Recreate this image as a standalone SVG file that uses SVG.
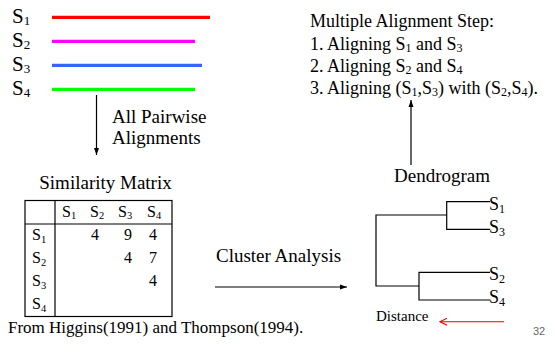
<svg xmlns="http://www.w3.org/2000/svg" width="554" height="345" viewBox="0 0 554 345">
<style>
text{font-family:"Liberation Serif","Times New Roman",serif;fill:#000}
.big{font-size:21px}
.m{font-size:19px}
.t{font-size:18px}
.mx{font-size:16px}
.sub{font-size:12px}
.sm{font-size:10.5px}
.bs{font-size:13px}
.ln{stroke:#000;stroke-width:1.2;fill:none}
.seq{stroke-width:3.2;fill:none}
</style>
<defs>
<marker id="ah" markerWidth="8" markerHeight="8" refX="7" refY="4" orient="auto" markerUnits="userSpaceOnUse">
<path d="M0,1.5 L7,4 L0,6.5 Z" fill="#000"/>
</marker>
<marker id="ro" markerWidth="10" markerHeight="10" refX="7" refY="4" orient="auto" markerUnits="userSpaceOnUse">
<path d="M0,0.5 L7,4 L0,7.5" fill="none" stroke="#e00" stroke-width="1.1"/>
</marker>
</defs>
<g id="sequences">
<text class="big" x="12" y="23">S<tspan class="bs" dy="2">1</tspan></text>
<text class="big" x="12" y="47">S<tspan class="bs" dy="2">2</tspan></text>
<text class="big" x="12" y="71">S<tspan class="bs" dy="2">3</tspan></text>
<text class="big" x="12" y="95">S<tspan class="bs" dy="2">4</tspan></text>
<line class="seq" x1="52" y1="17.3" x2="210" y2="17.3" stroke="#ff0000"/>
<line class="seq" x1="52" y1="41.3" x2="195" y2="41.3" stroke="#ff00ff"/>
<line class="seq" x1="52" y1="65.3" x2="202" y2="65.3" stroke="#3366ff"/>
<line class="seq" x1="52" y1="89.3" x2="195" y2="89.3" stroke="#00ff00"/>
</g>
<g id="steps">
<text class="t" x="310" y="27">Multiple Alignment Step:</text>
<text class="t" x="310" y="50">1. Aligning S<tspan class="sub" dy="2">1</tspan><tspan dy="-2"> and S</tspan><tspan class="sub" dy="2">3</tspan></text>
<text class="t" x="310" y="72">2. Aligning S<tspan class="sub" dy="2">2</tspan><tspan dy="-2"> and S</tspan><tspan class="sub" dy="2">4</tspan></text>
<text class="t" x="310" y="94">3. Aligning (S<tspan class="sub" dy="2">1</tspan><tspan dy="-2">,S</tspan><tspan class="sub" dy="2">3</tspan><tspan dy="-2">) with (S</tspan><tspan class="sub" dy="2">2</tspan><tspan dy="-2">,S</tspan><tspan class="sub" dy="2">4</tspan><tspan dy="-2">).</tspan></text>
</g>
<g id="matrix">
<text class="m" x="105.5" y="189" text-anchor="middle">Similarity Matrix</text>
<rect x="25" y="200.5" width="147" height="116" class="ln"/>
<line class="ln" x1="55" y1="200.5" x2="55" y2="316.5"/>
<line class="ln" x1="25" y1="224" x2="172" y2="224"/>
<g class="mx">
<text x="62" y="217">S<tspan class="sm" dy="2">1</tspan></text>
<text x="90" y="217">S<tspan class="sm" dy="2">2</tspan></text>
<text x="118" y="217">S<tspan class="sm" dy="2">3</tspan></text>
<text x="147" y="217">S<tspan class="sm" dy="2">4</tspan></text>
<text x="32" y="240">S<tspan class="sm" dy="3">1</tspan></text>
<text x="32" y="263">S<tspan class="sm" dy="3">2</tspan></text>
<text x="32" y="286">S<tspan class="sm" dy="3">3</tspan></text>
<text x="32" y="309">S<tspan class="sm" dy="3">4</tspan></text>
<text x="95" y="240" text-anchor="middle">4</text>
<text x="128" y="240" text-anchor="middle">9</text>
<text x="153" y="240" text-anchor="middle">4</text>
<text x="128" y="263" text-anchor="middle">4</text>
<text x="153" y="263" text-anchor="middle">7</text>
<text x="153" y="286" text-anchor="middle">4</text>
</g>
<text x="8" y="333" font-size="17">From Higgins(1991) and Thompson(1994).</text>
</g>
<g id="dendrogram">
<text class="m" x="442" y="182" text-anchor="middle">Dendrogram</text>
<path class="ln" d="M490,201.7 H446.7 V229.3 H490 M446.7,215 H376 V286 H419 M490,272.3 H419 V300 H490"/>
<text x="489" y="210" font-size="18">S<tspan class="sub" dy="3">1</tspan></text>
<text x="489" y="233" font-size="18">S<tspan class="sub" dy="3">3</tspan></text>
<text x="489" y="280" font-size="18">S<tspan class="sub" dy="3">2</tspan></text>
<text x="489" y="303" font-size="18">S<tspan class="sub" dy="3">4</tspan></text>
<text x="376" y="321" font-size="15">Distance</text>
</g>
<g id="connectors">
<line class="ln" x1="96.5" y1="95" x2="96.5" y2="155" marker-end="url(#ah)"/>
<text class="m" x="112" y="123">All Pairwise</text>
<text class="m" x="112" y="144">Alignments</text>
<line class="ln" x1="215" y1="287" x2="347" y2="287" marker-end="url(#ah)"/>
<text class="m" x="216" y="262">Cluster Analysis</text>
<line class="ln" x1="411" y1="165" x2="411" y2="100" marker-end="url(#ah)"/>
<line x1="504" y1="321.7" x2="440" y2="321.7" stroke="#e00" stroke-width="1.1" marker-end="url(#ro)"/>
</g>
<text x="533" y="335" font-size="11" style="font-family:'Liberation Sans',Arial,sans-serif;fill:#666">32</text>
</svg>
